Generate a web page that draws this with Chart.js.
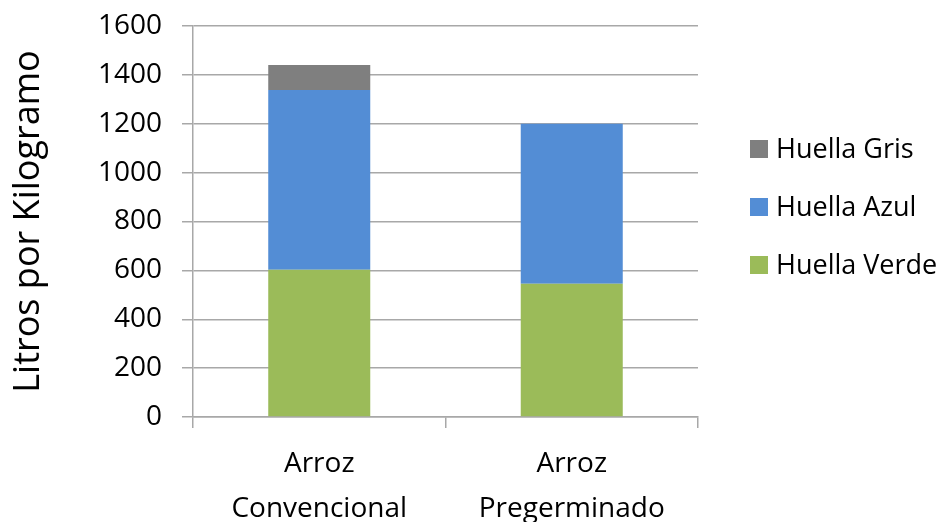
<!DOCTYPE html>
<html>
<head>
<meta charset="utf-8">
<script src="https://cdn.jsdelivr.net/npm/chart.js@4"></script>
<style>
  html, body { margin: 0; padding: 0; background: #ffffff; }
  #wrap { width: 948px; height: 522px; }
</style>
</head>
<body>
<div id="wrap"><canvas id="chart" width="948" height="522"></canvas></div>
<script>
// Water footprint of rice, litres per kilogram
const categories = [['Arroz', 'Convencional'], ['Arroz', 'Pregerminado']];
const huellaVerde = [603, 545];
const huellaAzul = [735, 655];
const huellaGris = [102, 0];
const yTicks = [0, 200, 400, 600, 800, 1000, 1200, 1400, 1600];

const FONT = "'Open Sans', 'Liberation Sans', sans-serif";
const GRID = '#a8a8a8';
const TEXT = '#000000';

// Legend on the right, listed top to bottom in stack order (top segment first)
const sideLegend = {
  id: 'sideLegend',
  afterDraw(chart) {
    const ctx = chart.ctx;
    const area = chart.chartArea;
    const sets = chart.data.datasets.slice().reverse();
    const x0 = area.right + 52;
    const yStart = area.top + 123;
    const step = 58;
    const box = 18;
    ctx.save();
    ctx.font = '27px ' + FONT;
    ctx.textBaseline = 'middle';
    ctx.textAlign = 'left';
    sets.forEach((ds, i) => {
      const cy = yStart + i * step;
      ctx.fillStyle = ds.backgroundColor;
      ctx.fillRect(x0, cy - box / 2, box, box);
      ctx.fillStyle = TEXT;
      ctx.fillText(ds.label, x0 + box + 8, cy + 1);
    });
    ctx.restore();
  }
};

new Chart(document.getElementById('chart'), {
  type: 'bar',
  data: {
    labels: categories,
    datasets: [
      { label: 'Huella Verde', data: huellaVerde, backgroundColor: '#9bbb59' },
      { label: 'Huella Azul', data: huellaAzul, backgroundColor: '#538dd5' },
      { label: 'Huella Gris', data: huellaGris, backgroundColor: '#7f7f7f' }
    ]
  },
  options: {
    responsive: false,
    animation: false,
    events: [],
    layout: { padding: { top: 26, right: 250, left: 0, bottom: 0 } },
    datasets: {
      bar: { categoryPercentage: 1, barPercentage: 0.404, borderWidth: 0 }
    },
    plugins: {
      legend: { display: false },
      tooltip: { enabled: false }
    },
    scales: {
      x: {
        stacked: true,
        offset: true,
        afterFit(s) { s.height = 105; },
        grid: { drawOnChartArea: false, color: GRID, tickLength: 11, lineWidth: 1.5, offset: true },
        border: { display: true, color: GRID, width: 1.5 },
        ticks: { color: TEXT, font: { family: FONT, size: 28, lineHeight: 1.6 }, padding: 14, maxRotation: 0 }
      },
      y: {
        stacked: true,
        min: 0,
        max: 1600,
        afterFit(s) {
          s.width = 193;
          s.paddingTop = 10;
          s.paddingBottom = 10;
        },
        afterBuildTicks(s) { s.ticks = yTicks.map(v => ({ value: v })); },
        grid: { color: GRID, lineWidth: 1.5, tickLength: 11 },
        border: { display: true, color: GRID, width: 1.5 },
        ticks: {
          color: TEXT,
          font: { family: FONT, size: 28 },
          padding: 20,
          callback: (v) => String(v)
        },
        title: {
          display: true,
          text: 'Litros por Kilogramo',
          color: TEXT,
          font: { family: FONT, size: 36, lineHeight: 1.2 },
          padding: { top: 7, bottom: 0 }
        }
      }
    }
  },
  plugins: [sideLegend]
});
</script>
</body>
</html>
